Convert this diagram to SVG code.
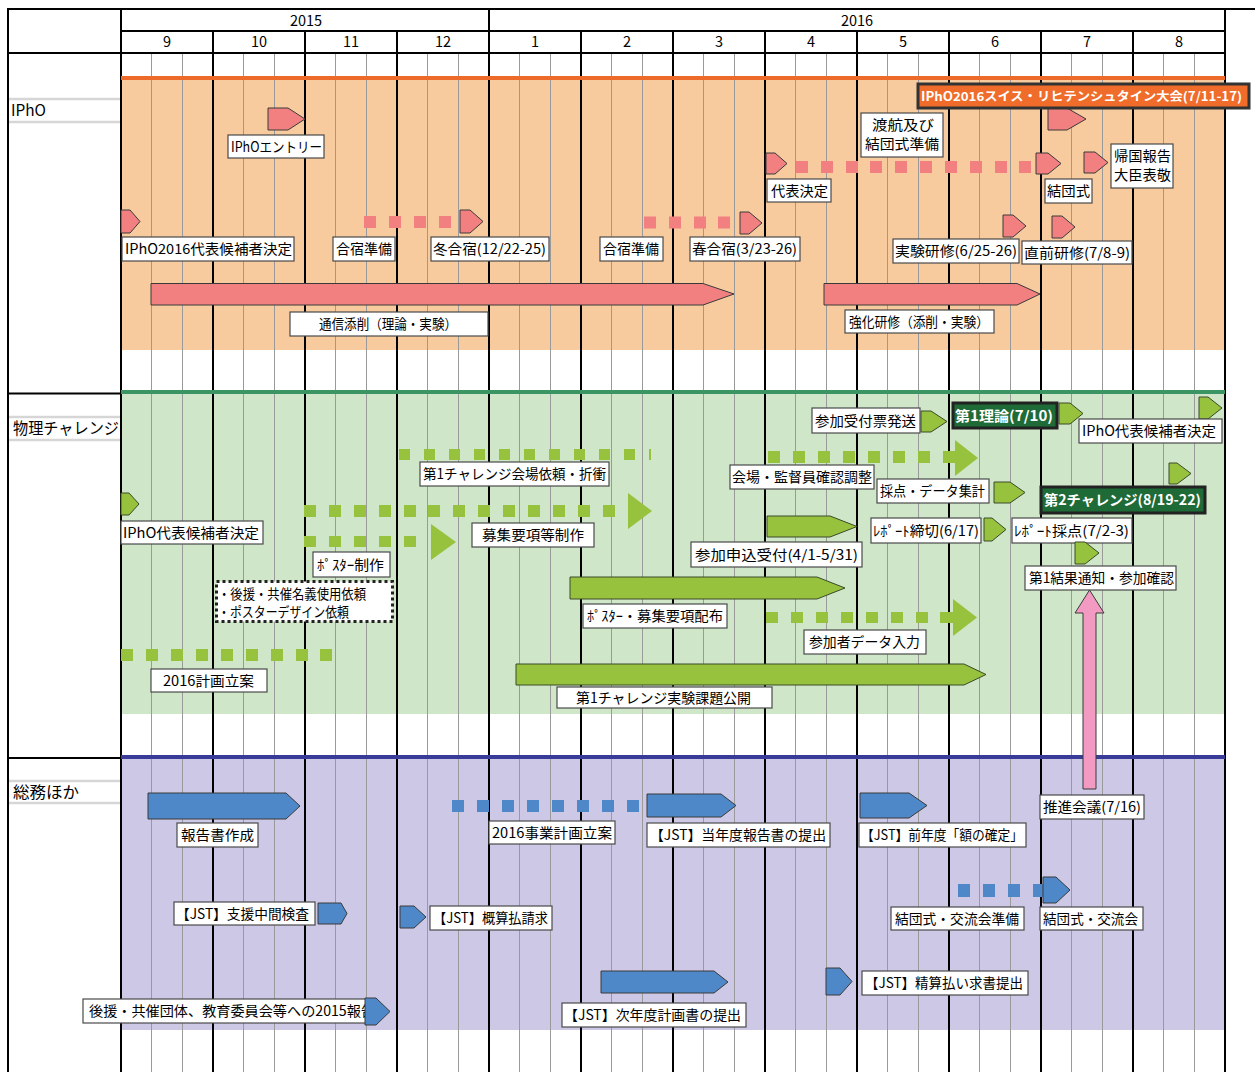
<svg xmlns="http://www.w3.org/2000/svg" width="1255" height="1072" viewBox="0 0 1255 1072">
<style>
.t{font-family:"Noto Sans CJK JP","Noto Sans",sans-serif;font-size:14px;fill:#000}
.s{font-family:"Noto Sans CJK JP","Noto Sans",sans-serif;font-size:16px;fill:#000}
.h{font-family:"Noto Sans CJK JP","Noto Sans",sans-serif;font-size:14.5px;fill:#000;text-anchor:middle}
.tw{font-family:"Noto Sans CJK JP","Noto Sans",sans-serif;font-size:14px;fill:#fff;font-weight:bold}
.lb{fill:#fff;stroke:#4a4a4a;stroke-width:1.2}
.pk{fill:#F28080;stroke:#3a3a3a;stroke-width:1}
.pkd{fill:#F28080}
.gr{fill:#97C23D;stroke:#3a4a2a;stroke-width:1}
.grd{fill:#97C23D}
.bl{fill:#4F88C8;stroke:#3a3a3a;stroke-width:1}
.bld{fill:#4F88C8}
.dk{fill:#1F6B37;stroke:#222;stroke-width:3}
</style>
<rect width="1255" height="1072" fill="#fff"/>
<!-- section fills -->
<rect x="121" y="80" width="1104" height="270" fill="#F8CB9F"/>
<rect x="121" y="394" width="1104" height="320" fill="#D0E6C8"/>
<rect x="121" y="759" width="1104" height="271" fill="#CCC8E5"/>
<!-- grid -->
<path fill="none" stroke="#9a9a9a" stroke-width="1" d="M151.5 53V1072M182.5 53V1072M243.5 53V1072M274.5 53V1072M335.5 53V1072M366.5 53V1072M427.5 53V1072M458.5 53V1072M519.5 53V1072M550.5 53V1072M611.5 53V1072M642.5 53V1072M703.5 53V1072M734.5 53V1072M795.5 53V1072M826.5 53V1072M887.5 53V1072M918.5 53V1072M979.5 53V1072M1010.5 53V1072M1071.5 53V1072M1102.5 53V1072M1163.5 53V1072M1194.5 53V1072"/>
<path fill="none" stroke="#000" stroke-width="2" d="M8 9H1255M8 8V1072M121 9V1072M1225 9V1072M489 9V1072M121 31H1225M8 53H1225M213 31V1072M305 31V1072M397 31V1072M581 31V1072M673 31V1072M765 31V1072M857 31V1072M949 31V1072M1041 31V1072M1133 31V1072M8 393.5H121M8 758H121"/>
<path fill="none" stroke="#D6D6D6" stroke-width="2.5" d="M9 99H120M9 122H120M9 417H120M9 440H120M9 781H120M9 803H120"/>
<path stroke="#EE6A2A" stroke-width="4" d="M121 78H1225"/>
<path stroke="#3A9464" stroke-width="4" d="M121 392H1225"/>
<path stroke="#383C98" stroke-width="4" d="M121 757H1225"/>
<!-- header -->
<text class="h" x="306" y="26">2015</text>
<text class="h" x="857" y="26">2016</text>
<text class="h" x="167" y="47">9</text>
<text class="h" x="259" y="47">10</text>
<text class="h" x="351" y="47">11</text>
<text class="h" x="443" y="47">12</text>
<text class="h" x="535" y="47">1</text>
<text class="h" x="627" y="47">2</text>
<text class="h" x="719" y="47">3</text>
<text class="h" x="811" y="47">4</text>
<text class="h" x="903" y="47">5</text>
<text class="h" x="995" y="47">6</text>
<text class="h" x="1087" y="47">7</text>
<text class="h" x="1179" y="47">8</text>
<text class="s" x="11" y="116" textLength="35" lengthAdjust="spacingAndGlyphs">IPhO</text>
<text class="s" x="13" y="434" textLength="106" lengthAdjust="spacingAndGlyphs">物理チャレンジ</text>
<text class="s" x="13" y="798" textLength="66" lengthAdjust="spacingAndGlyphs">総務ほか</text>

<!-- IPhO section -->
<g id="n-entry"><polygon class="pk" points="268,108 288,108 305,119 288,130 268,130"/><rect class="lb" x="228" y="135" width="96" height="23"/><text class="t" x="231" y="151.5" textLength="91" lengthAdjust="spacingAndGlyphs">IPhOエントリー</text></g>
<g id="n-iphokouho"><polygon class="pk" points="121,210 130,210 140,221.5 130,233 121,233"/><rect class="lb" x="122" y="237" width="172" height="24"/><text class="t" x="125" y="254" textLength="167" lengthAdjust="spacingAndGlyphs">IPhO2016代表候補者決定</text></g>
<g id="n-gasshuku1"><rect class="pkd" x="364" y="216" width="12" height="12"/><rect class="pkd" x="389" y="216" width="12" height="12"/><rect class="pkd" x="414" y="216" width="12" height="12"/><rect class="pkd" x="439" y="216" width="12" height="12"/><rect class="lb" x="333" y="237" width="62" height="24"/><text class="t" x="336" y="254" textLength="56" lengthAdjust="spacingAndGlyphs">合宿準備</text></g>
<g id="n-fuyu"><polygon class="pk" points="460,210 470,210 483,221.5 470,233 460,233"/><rect class="lb" x="431" y="237" width="118" height="24"/><text class="t" x="433" y="254" textLength="113" lengthAdjust="spacingAndGlyphs">冬合宿(12/22-25)</text></g>
<g id="n-gasshuku2"><rect class="pkd" x="644" y="216.5" width="12" height="12"/><rect class="pkd" x="669" y="216.5" width="12" height="12"/><rect class="pkd" x="694" y="216.5" width="12" height="12"/><rect class="pkd" x="718" y="216.5" width="12" height="12"/><rect class="lb" x="600" y="237" width="63" height="24"/><text class="t" x="603" y="254" textLength="56" lengthAdjust="spacingAndGlyphs">合宿準備</text></g>
<g id="n-haru"><polygon class="pk" points="740,212 749,212 762,223 749,234 740,234"/><rect class="lb" x="690" y="237" width="110" height="24"/><text class="t" x="692" y="254" textLength="105" lengthAdjust="spacingAndGlyphs">春合宿(3/23-26)</text></g>
<g id="n-tsushin"><polygon class="pk" points="151,283.5 703,283.5 734,294 703,305 151,305"/><rect class="lb" x="290" y="312" width="198" height="24"/><text class="t" x="319" y="329" textLength="138" lengthAdjust="spacingAndGlyphs">通信添削（理論・実験）</text></g>
<g id="n-kyoka"><polygon class="pk" points="824,283.5 1017,283.5 1040,294 1017,305 824,305"/><rect class="lb" x="845" y="310" width="149" height="23"/><text class="t" x="849" y="326.5" textLength="140" lengthAdjust="spacingAndGlyphs">強化研修（添削・実験）</text></g>
<g id="n-daihyo"><polygon class="pk" points="766,153 775,153 787,163.5 775,174 766,174"/><rect class="pkd" x="796" y="161" width="12" height="12"/><rect class="pkd" x="821" y="161" width="12" height="12"/><rect class="pkd" x="846" y="161" width="12" height="12"/><rect class="pkd" x="870" y="161" width="12" height="12"/><rect class="pkd" x="895" y="161" width="12" height="12"/><rect class="pkd" x="920" y="161" width="12" height="12"/><rect class="pkd" x="945" y="161" width="12" height="12"/><rect class="pkd" x="970" y="161" width="12" height="12"/><rect class="pkd" x="995" y="161" width="12" height="12"/><rect class="pkd" x="1019" y="161" width="12" height="12"/><rect class="lb" x="767" y="179" width="64" height="23"/><text class="t" x="771" y="195.5" textLength="57" lengthAdjust="spacingAndGlyphs">代表決定</text></g>
<g id="n-toko"><rect class="lb" x="861" y="113" width="82" height="44"/><text class="t" x="872" y="130" textLength="62" lengthAdjust="spacingAndGlyphs">渡航及び</text><text class="t" x="865" y="149" textLength="74" lengthAdjust="spacingAndGlyphs">結団式準備</text></g>
<g id="n-ketsudan"><polygon class="pk" points="1036,153 1048,153 1061,163.5 1048,174 1036,174"/><rect class="lb" x="1045" y="179" width="47" height="24"/><text class="t" x="1047" y="196" textLength="43" lengthAdjust="spacingAndGlyphs">結団式</text></g>
<g id="n-kikoku"><polygon class="pk" points="1084,152 1095,152 1108,162.5 1095,173 1084,173"/><rect class="lb" x="1111" y="144" width="62" height="44"/><text class="t" x="1114" y="161" textLength="57" lengthAdjust="spacingAndGlyphs">帰国報告</text><text class="t" x="1114" y="180" textLength="57" lengthAdjust="spacingAndGlyphs">大臣表敬</text></g>
<g id="n-taikai"><polygon class="pk" points="1048,108 1067,108 1086,119 1067,130 1048,130"/><rect x="918" y="84" width="331" height="24" fill="#EF6C2B" stroke="#333" stroke-width="3"/><text class="tw" x="921" y="101" style="font-size:12.3px" textLength="321" lengthAdjust="spacingAndGlyphs">IPhO2016スイス・リヒテンシュタイン大会(7/11-17)</text></g>
<g id="n-jikken"><polygon class="pk" points="1003,215 1013,215 1026,226 1013,237 1003,237"/><rect class="lb" x="893" y="239" width="126" height="24"/><text class="t" x="895" y="256" textLength="122" lengthAdjust="spacingAndGlyphs">実験研修(6/25-26)</text></g>
<g id="n-chokuzen"><polygon class="pk" points="1052,216 1062,216 1075,227 1062,238 1052,238"/><rect class="lb" x="1022" y="241" width="110" height="23"/><text class="t" x="1024" y="257.5" textLength="106" lengthAdjust="spacingAndGlyphs">直前研修(7/8-9)</text></g>

<!-- Physics challenge section -->
<g id="n-c-kouho"><polygon class="gr" points="121,493 129,493 139,504 129,515 121,515"/><rect class="lb" x="121" y="521" width="142" height="23"/><text class="t" x="123" y="537.5" textLength="136" lengthAdjust="spacingAndGlyphs">IPhO代表候補者決定</text></g>
<g id="n-kaijo"><rect class="grd" x="399" y="449" width="11" height="11"/><rect class="grd" x="424" y="449" width="11" height="11"/><rect class="grd" x="449" y="449" width="11" height="11"/><rect class="grd" x="474" y="449" width="11" height="11"/><rect class="grd" x="499" y="449" width="11" height="11"/><rect class="grd" x="524" y="449" width="11" height="11"/><rect class="grd" x="549" y="449" width="11" height="11"/><rect class="grd" x="574" y="449" width="11" height="11"/><rect class="grd" x="599" y="449" width="11" height="11"/><rect class="grd" x="624" y="449" width="11" height="11"/><rect class="grd" x="649" y="449" width="2" height="11"/><rect class="lb" x="420" y="462" width="189" height="24"/><text class="t" x="423" y="479" textLength="183" lengthAdjust="spacingAndGlyphs">第1チャレンジ会場依頼・折衝</text></g>
<g id="n-boshu"><rect class="grd" x="304" y="505" width="12" height="12"/><rect class="grd" x="329" y="505" width="12" height="12"/><rect class="grd" x="354" y="505" width="12" height="12"/><rect class="grd" x="379" y="505" width="12" height="12"/><rect class="grd" x="404" y="505" width="12" height="12"/><rect class="grd" x="428" y="505" width="12" height="12"/><rect class="grd" x="453" y="505" width="12" height="12"/><rect class="grd" x="478" y="505" width="12" height="12"/><rect class="grd" x="503" y="505" width="12" height="12"/><rect class="grd" x="528" y="505" width="12" height="12"/><rect class="grd" x="553" y="505" width="12" height="12"/><rect class="grd" x="578" y="505" width="12" height="12"/><rect class="grd" x="603" y="505" width="12" height="12"/><polygon class="grd" points="628,493 652,511 628,529"/><rect class="lb" x="472" y="523" width="122" height="24"/><text class="t" x="482" y="540" textLength="102" lengthAdjust="spacingAndGlyphs">募集要項等制作</text></g>
<g id="n-poster"><rect class="grd" x="304" y="536" width="12" height="11"/><rect class="grd" x="329" y="536" width="12" height="11"/><rect class="grd" x="354" y="536" width="12" height="11"/><rect class="grd" x="379" y="536" width="12" height="11"/><rect class="grd" x="404" y="536" width="12" height="11"/><polygon class="grd" points="431,524 456,542 431,560"/><rect class="lb" x="313" y="552" width="77" height="25"/><text class="t" x="317" y="569.5" textLength="67" lengthAdjust="spacingAndGlyphs">ﾎﾟｽﾀｰ制作</text></g>
<g id="n-kouen"><rect x="216.5" y="581.5" width="176" height="40" fill="#fff" stroke="#222" stroke-width="3" stroke-dasharray="3 3"/><text class="t" x="218" y="599" textLength="148" lengthAdjust="spacingAndGlyphs">・後援・共催名義使用依頼</text><text class="t" x="218" y="617" textLength="131" lengthAdjust="spacingAndGlyphs">・ポスターデザイン依頼</text></g>
<g id="n-keikaku"><rect class="grd" x="121" y="649" width="12" height="12"/><rect class="grd" x="146" y="649" width="12" height="12"/><rect class="grd" x="171" y="649" width="12" height="12"/><rect class="grd" x="196" y="649" width="12" height="12"/><rect class="grd" x="221" y="649" width="12" height="12"/><rect class="grd" x="246" y="649" width="12" height="12"/><rect class="grd" x="271" y="649" width="12" height="12"/><rect class="grd" x="296" y="649" width="12" height="12"/><rect class="grd" x="320" y="649" width="12" height="12"/><rect class="lb" x="151" y="669" width="116" height="23"/><text class="t" x="163" y="685.5" textLength="91" lengthAdjust="spacingAndGlyphs">2016計画立案</text></g>
<g id="n-haifu"><polygon class="gr" points="570,577 817,577 845,588 817,599 570,599"/><rect class="lb" x="583" y="604" width="144" height="24"/><text class="t" x="587" y="621" textLength="136" lengthAdjust="spacingAndGlyphs">ﾎﾟｽﾀｰ・募集要項配布</text></g>
<g id="n-kadai"><polygon class="gr" points="516,664 964,664 986,674.5 964,685 516,685"/><rect class="lb" x="557" y="687" width="215" height="21"/><text class="t" x="576" y="702.5" textLength="175" lengthAdjust="spacingAndGlyphs">第1チャレンジ実験課題公開</text></g>
<g id="n-data"><rect class="grd" x="766" y="612" width="12" height="11"/><rect class="grd" x="791" y="612" width="12" height="11"/><rect class="grd" x="816" y="612" width="12" height="11"/><rect class="grd" x="841" y="612" width="12" height="11"/><rect class="grd" x="866" y="612" width="12" height="11"/><rect class="grd" x="891" y="612" width="12" height="11"/><rect class="grd" x="916" y="612" width="12" height="11"/><rect class="grd" x="940" y="612" width="13" height="11"/><polygon class="grd" points="953,599 977,617.5 953,636"/><rect class="lb" x="804" y="630" width="122" height="24"/><text class="t" x="809" y="647" textLength="111" lengthAdjust="spacingAndGlyphs">参加者データ入力</text></g>
<g id="n-uketsuke"><polygon class="gr" points="921,411 931,411 947,421.5 931,432 921,432"/><rect class="lb" x="812" y="408" width="108" height="25"/><text class="t" x="815" y="425.5" textLength="101" lengthAdjust="spacingAndGlyphs">参加受付票発送</text></g>
<g id="n-riron"><polygon class="gr" points="1059,403 1070,403 1083,413.5 1070,424 1059,424"/><rect class="dk" x="953" y="403" width="104" height="25"/><text class="tw" x="955" y="420.5" textLength="98" lengthAdjust="spacingAndGlyphs">第1理論(7/10)</text></g>
<g id="n-c-kouho2"><polygon class="gr" points="1199,397 1208,397 1222,408 1208,419 1199,419"/><rect class="lb" x="1079" y="419" width="143" height="24"/><text class="t" x="1082" y="436" textLength="134" lengthAdjust="spacingAndGlyphs">IPhO代表候補者決定</text></g>
<g id="n-kantoku"><rect class="grd" x="768" y="451" width="12" height="12"/><rect class="grd" x="793" y="451" width="12" height="12"/><rect class="grd" x="818" y="451" width="12" height="12"/><rect class="grd" x="843" y="451" width="12" height="12"/><rect class="grd" x="868" y="451" width="12" height="12"/><rect class="grd" x="893" y="451" width="12" height="12"/><rect class="grd" x="918" y="451" width="12" height="12"/><rect class="grd" x="943" y="451" width="12" height="12"/><polygon class="grd" points="955,440 978,458 955,476"/><rect class="lb" x="730" y="465" width="144" height="24"/><text class="t" x="732" y="482" textLength="140" lengthAdjust="spacingAndGlyphs">会場・監督員確認調整</text></g>
<g id="n-saiten"><polygon class="gr" points="994,482 1010,482 1025,492.5 1010,503 994,503"/><rect class="lb" x="877" y="479" width="112" height="24"/><text class="t" x="880" y="496" textLength="105" lengthAdjust="spacingAndGlyphs">採点・データ集計</text></g>
<g id="n-second"><polygon class="gr" points="1169,463 1177,463 1191,473.5 1177,484 1169,484"/><rect class="dk" x="1041" y="487" width="164" height="26"/><text class="tw" x="1044" y="505" textLength="157" lengthAdjust="spacingAndGlyphs">第2チャレンジ(8/19-22)</text></g>
<g id="n-moushikomi"><polygon class="gr" points="767,516 830,516 857,526.5 830,537 767,537"/><rect class="lb" x="691" y="542" width="171" height="25"/><text class="t" x="695" y="559.5" textLength="163" lengthAdjust="spacingAndGlyphs">参加申込受付(4/1-5/31)</text></g>
<g id="n-shimekiri"><polygon class="gr" points="984,518 992,518 1006,529.5 992,541 984,541"/><rect class="lb" x="871" y="518" width="110" height="25"/><text class="t" x="873" y="535.5" textLength="106" lengthAdjust="spacingAndGlyphs">ﾚﾎﾟｰﾄ締切(6/17)</text></g>
<g id="n-report"><rect class="lb" x="1012" y="518" width="120" height="25"/><text class="t" x="1014" y="535.5" textLength="115" lengthAdjust="spacingAndGlyphs">ﾚﾎﾟｰﾄ採点(7/2-3)</text></g>
<g id="n-kekka"><polygon class="gr" points="1075,542 1085,542 1099,553 1085,564 1075,564"/><rect class="lb" x="1025" y="566" width="151" height="24"/><text class="t" x="1029" y="583" textLength="145" lengthAdjust="spacingAndGlyphs">第1結果通知・参加確認</text></g>

<!-- General affairs section -->
<g id="n-hokokusho"><polygon class="bl" points="148,793 286,793 300,806 286,819 148,819"/><rect class="lb" x="177" y="823" width="81" height="24"/><text class="t" x="181" y="840" textLength="73" lengthAdjust="spacingAndGlyphs">報告書作成</text></g>
<g id="n-jigyo"><rect class="bld" x="452" y="800" width="12" height="12"/><rect class="bld" x="477" y="800" width="12" height="12"/><rect class="bld" x="502" y="800" width="12" height="12"/><rect class="bld" x="527" y="800" width="12" height="12"/><rect class="bld" x="552" y="800" width="12" height="12"/><rect class="bld" x="577" y="800" width="12" height="12"/><rect class="bld" x="602" y="800" width="12" height="12"/><rect class="bld" x="627" y="800" width="12" height="12"/><rect class="lb" x="489" y="821" width="126" height="23"/><text class="t" x="492" y="837.5" textLength="120" lengthAdjust="spacingAndGlyphs">2016事業計画立案</text></g>
<g id="n-tonendo"><polygon class="bl" points="647,794 721,794 736,805.5 721,817 647,817"/><rect class="lb" x="647" y="823" width="183" height="24"/><text class="t" x="650" y="840" textLength="176" lengthAdjust="spacingAndGlyphs">【JST】当年度報告書の提出</text></g>
<g id="n-zennendo"><polygon class="bl" points="860,793 909,793 927,805.5 909,818 860,818"/><rect class="lb" x="859" y="823" width="167" height="24"/><text class="t" x="861" y="840" textLength="162" lengthAdjust="spacingAndGlyphs">【JST】前年度「額の確定」</text></g>
<g id="n-suishin"><rect class="lb" x="1040" y="795" width="104" height="24"/><text class="t" x="1043" y="812" textLength="98" lengthAdjust="spacingAndGlyphs">推進会議(7/16)</text></g>
<g id="n-chukan"><polygon class="bl" points="318,903 341,903 347,913.5 341,924 318,924"/><rect class="lb" x="174" y="902" width="141" height="23"/><text class="t" x="176" y="918.5" textLength="133" lengthAdjust="spacingAndGlyphs">【JST】支援中間検査</text></g>
<g id="n-gaisan"><polygon class="bl" points="400,906 414,906 426,917 414,928 400,928"/><rect class="lb" x="430" y="906" width="122" height="24"/><text class="t" x="433" y="923" textLength="115" lengthAdjust="spacingAndGlyphs">【JST】概算払請求</text></g>
<g id="n-koryu-jumbi"><rect class="bld" x="958" y="884" width="12" height="13"/><rect class="bld" x="983" y="884" width="12" height="13"/><rect class="bld" x="1008" y="884" width="12" height="13"/><rect class="bld" x="1033" y="884" width="12" height="13"/><rect class="lb" x="891" y="907" width="133" height="23"/><text class="t" x="895" y="923.5" textLength="124" lengthAdjust="spacingAndGlyphs">結団式・交流会準備</text></g>
<g id="n-koryu"><polygon class="bl" points="1043,877 1056,877 1070,890 1056,903 1043,903"/><rect class="lb" x="1040" y="907" width="103" height="23"/><text class="t" x="1043" y="923.5" textLength="95" lengthAdjust="spacingAndGlyphs">結団式・交流会</text></g>
<g id="n-jinendo"><polygon class="bl" points="601,971 714,971 728,982 714,993 601,993"/><rect class="lb" x="562" y="1003" width="184" height="24"/><text class="t" x="564" y="1020" textLength="177" lengthAdjust="spacingAndGlyphs">【JST】次年度計画書の提出</text></g>
<g id="n-seisan"><polygon class="bl" points="826,968 840,968 852,981.5 840,995 826,995"/><rect class="lb" x="862" y="971" width="166" height="24"/><text class="t" x="865" y="988" textLength="158" lengthAdjust="spacingAndGlyphs">【JST】精算払い求書提出</text></g>
<g id="n-kouen2015"><rect class="lb" x="83" y="999" width="291" height="24"/><text class="t" x="89" y="1016" textLength="286" lengthAdjust="spacingAndGlyphs">後援・共催団体、教育委員会等への2015報告</text><polygon class="bl" points="365,998 376,998 390,1011.5 376,1025 365,1025"/></g>

<!-- connectors -->
<g id="connectors">
<polygon points="1089.5,590 1104,613 1096,613 1096,789 1083,789 1083,613 1075,613" fill="#F39AC2" stroke="#3a3a3a" stroke-width="1"/>
</g>
</svg>
